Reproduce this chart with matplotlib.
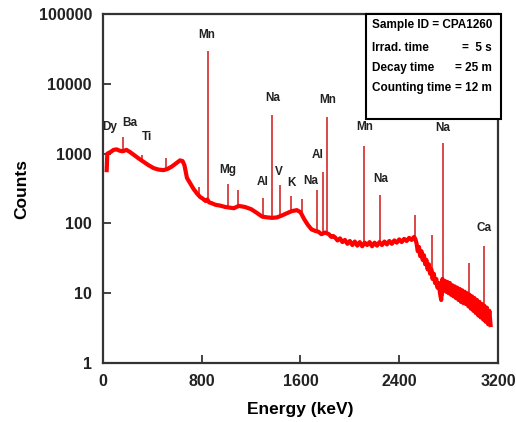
import matplotlib.pyplot as plt
from matplotlib.patches import Rectangle
from matplotlib.ticker import FixedLocator, NullLocator

# continuum (energy keV, counts)
cont_e = [30, 35, 60, 85, 110, 135, 160, 190, 220, 250, 290, 330, 370, 410, 450,
          490, 520, 556, 590, 624, 645, 660, 680, 705, 732, 760, 786, 810, 830,
          845, 860, 880, 910, 948, 990, 1030, 1060, 1100, 1150, 1200, 1250, 1290,
          1330, 1370, 1410, 1450, 1490, 1530, 1570, 1600, 1630, 1660, 1690, 1720,
          1745, 1770, 1800, 1830, 1850, 1865,
          1880, 1900, 1920, 1940, 1960, 1980, 2000, 2020, 2040, 2060, 2080, 2100,
          2120, 2140, 2160, 2180, 2200, 2220, 2240, 2260, 2280, 2300, 2320, 2340,
          2360, 2380, 2400, 2420, 2440, 2460, 2480, 2500, 2520, 2530,
          2540, 2550, 2560, 2570, 2580, 2590, 2600, 2610, 2620, 2630, 2640, 2650,
          2660, 2670, 2680, 2690, 2700, 2710, 2720, 2730, 2740, 2750, 2760, 2770,
          2780, 2790, 2800, 2810, 2820, 2830, 2840, 2850, 2860, 2870, 2880, 2890,
          2900, 2910, 2920, 2930, 2940, 2950, 2960, 2970, 2980, 2990, 3000, 3010,
          3020, 3030, 3040, 3050, 3060, 3070, 3080, 3090, 3100, 3110, 3120, 3130,
          3140]
cont_c = [580, 1000, 1050, 1130, 1150, 1100, 1080, 1130, 1050, 960, 850, 760, 680, 620, 590,
          580, 600, 650, 720, 800, 780, 680, 450, 380, 315, 270, 240, 225, 210,
          220, 200, 195, 185, 180, 172, 168, 165, 178, 172, 160, 140, 125,
          122, 120, 122, 130, 140, 150, 155, 145, 115, 95, 82, 78,
          76, 70, 74, 70, 64, 66,
          63, 57, 61, 54, 58, 51, 56, 49, 55, 48, 54, 47,
          53, 49, 54, 47, 53, 48, 54, 49, 55, 50, 56, 51,
          57, 53, 59, 54, 60, 56, 62, 58, 64, 60,
          52, 40, 46, 34, 40, 30, 35, 26, 30, 22, 26, 19,
          22, 16, 19, 14, 16, 12, 14, 10, 8, 16, 11, 15,
          10.5, 14.5, 10, 14, 9.5, 13, 9, 12.5, 8.5, 12, 8, 11.5,
          7.5, 11, 7.2, 10.5, 7, 10, 6.5, 9.5, 6, 9, 5.6, 8.5,
          5.2, 8, 4.8, 7.5, 4.5, 7, 4.2, 6.6, 3.9, 6.2, 3.6, 5.6,
          3.5]

# gamma peaks: energy, counts at the foot, counts at the top
peak_e = [165, 320, 511, 780, 847, 1014, 1090, 1298, 1369, 1434, 1525, 1610,
          1732, 1779, 1811, 2113, 2243, 2530, 2668, 2754, 2962, 3010, 3084]
peak_base = [1070, 770, 585, 250, 215, 172, 172, 125, 120, 122, 150, 145,
             78, 70, 74, 49, 50, 60, 16, 9, 7, 5, 4.2]
peak_top = [1750, 950, 870, 335, 30000, 370, 300, 235, 3600, 350, 245, 225,
            300, 550, 3350, 1300, 255, 130, 68, 1420, 27, 8.8, 47]

# element labels: text, energy, counts
lbl_text = ['Dy', 'Ba', 'Ti', 'Mn', 'Mg', 'Al', 'Na', 'V', 'K', 'Na', 'Al', 'Mn',
            'Mn', 'Na', 'Na', 'Ca']
lbl_e = [57, 219, 356, 842, 1013, 1296, 1375, 1426, 1531, 1682, 1742, 1823,
         2122, 2252, 2752, 3086]
lbl_c = [2400, 2740, 1730, 50000, 582, 392, 6260, 545, 379, 409, 955, 5860,
         2400, 433, 2330, 86]

info_left = ['Irrad. time', 'Decay time', 'Counting time']
info_right = ['=  5 s', '= 25 m', '= 12 m']

plt.rcParams['font.family'] = ['Liberation Sans', 'DejaVu Sans']
plt.rcParams['font.weight'] = 'bold'

fig = plt.figure(figsize=(5.16, 4.22), dpi=100)
ax = fig.add_axes([0.1996, 0.1398, 0.7655, 0.827])

ax.vlines(peak_e, peak_base, peak_top, color='#d42a2a', lw=1.2, zorder=2)
ax.plot(cont_e, cont_c, color='#ff0000', lw=3.0, zorder=3)

for t, e, c in zip(lbl_text, lbl_e, lbl_c):
    ax.text(e, c, t, ha='center', va='center', fontsize=8.5, fontweight='bold',
            color='#222222', zorder=4)

ax.set_yscale('log')
ax.set_xlim(0, 3200)
ax.set_ylim(1, 100000)
ax.xaxis.set_major_locator(FixedLocator([0, 800, 1600, 2400, 3200]))
ax.yaxis.set_major_locator(FixedLocator([1, 10, 100, 1000, 10000, 100000]))
ax.yaxis.set_minor_locator(NullLocator())
ax.set_yticklabels(['1', '10', '100', '1000', '10000', '100000'])
ax.set_xticklabels(['0', '800', '1600', '2400', '3200'])
ax.tick_params(direction='in', length=6, width=1.2, labelsize=11.5, pad=8, colors='#222222')
for s in ax.spines.values():
    s.set_linewidth(1.6)
    s.set_color('#333333')

ax.set_xlabel('Energy (keV)', fontsize=12.5, fontweight='bold')
ax.set_ylabel('Counts', fontsize=12.5, fontweight='bold')
ax.xaxis.set_label_coords(0.5, -0.112)
ax.yaxis.set_label_coords(-0.187, 0.5)

# info box
ax.add_patch(Rectangle((0.666, 0.699), 0.342, 0.301, transform=ax.transAxes,
                       fill=True, facecolor='white', edgecolor='black', lw=1.5,
                       clip_on=False, zorder=5))
ax.text(0.681, 0.968, 'Sample ID = CPA1260', transform=ax.transAxes, fontsize=8.5,
        fontweight='bold', va='center', ha='left', zorder=6)
for i, (l, r) in enumerate(zip(info_left, info_right)):
    y = 0.903 - i * 0.0575
    ax.text(0.681, y, l, transform=ax.transAxes, fontsize=8.5, fontweight='bold',
            va='center', ha='left', zorder=6)
    ax.text(0.985, y, r, transform=ax.transAxes, fontsize=8.5, fontweight='bold',
            va='center', ha='right', zorder=6)

fig.savefig('out.png', dpi=100)
